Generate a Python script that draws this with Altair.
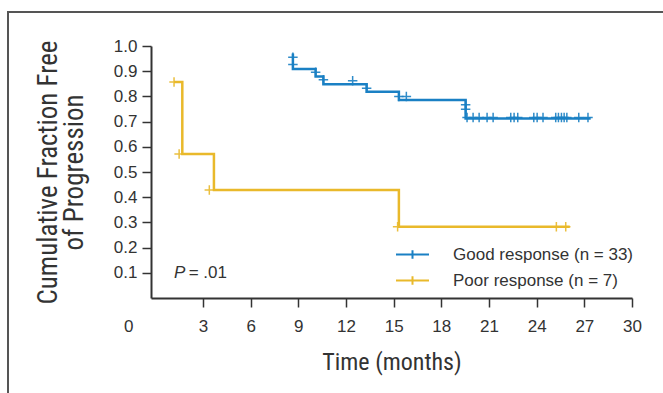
import altair as alt
import pandas as pd

# ---- data ----
good_times = [8.66, 8.66, 10.09, 10.58, 13.3, 15.33, 19.53, 27.4]
good_surv = [0.970, 0.909, 0.879, 0.848, 0.818, 0.786, 0.712, 0.712]
good_cens_t = [8.66, 8.66, 10.09, 10.58, 12.42, 13.3, 15.33, 15.8, 19.53, 19.53,
               19.62, 20.0, 20.38, 20.88, 21.26, 22.37, 22.58, 22.81, 23.82, 24.03,
               24.4, 25.2, 25.37, 25.56, 25.73, 25.9, 26.65, 27.23]
good_cens_s = [0.955, 0.927, 0.896, 0.866, 0.862, 0.832, 0.80, 0.80, 0.767, 0.749,
               0.716, 0.716, 0.716, 0.716, 0.716, 0.716, 0.716, 0.716, 0.716, 0.716,
               0.716, 0.716, 0.716, 0.716, 0.716, 0.716, 0.716, 0.716]

poor_times = [1.18, 1.7, 3.69, 15.33, 26.08]
poor_surv = [0.857, 0.571, 0.429, 0.283, 0.283]
poor_cens_t = [1.18, 1.5, 3.4, 15.25, 25.24, 25.83]
poor_cens_s = [0.857, 0.571, 0.429, 0.283, 0.283, 0.283]

groups = ["Good response (n = 33)", "Poor response (n = 7)"]
colors = ["#1a80c4", "#e9b92b"]
x_ticks = [0, 3, 6, 9, 12, 15, 18, 21, 24, 27, 30]
y_ticks = [0.1, 0.2, 0.3, 0.4, 0.5, 0.6, 0.7, 0.8, 0.9, 1.0]

lines = pd.DataFrame(
    [{"t": t, "s": s, "g": groups[0], "o": i} for i, (t, s) in enumerate(zip(good_times, good_surv))]
    + [{"t": t, "s": s, "g": groups[1], "o": i} for i, (t, s) in enumerate(zip(poor_times, poor_surv))]
)
cens = pd.DataFrame(
    [{"t": t, "s": s, "g": groups[0]} for t, s in zip(good_cens_t, good_cens_s)]
    + [{"t": t, "s": s, "g": groups[1]} for t, s in zip(poor_cens_t, poor_cens_s)]
)
ann_p = pd.DataFrame({"t": [1.18], "s": [0.1], "txt": ["P"]})
ann_v = pd.DataFrame({"t": [2.1], "s": [0.1], "txt": ["= .01"]})

LABEL_FONT = "Liberation Sans"
TITLE_FONT = "Roboto Condensed, Roboto, sans-serif"

xs = alt.Scale(domain=[-0.27, 30], nice=False, zero=False)
ys = alt.Scale(domain=[0, 1], nice=False)
col = alt.Scale(domain=groups, range=colors)

x_axis = alt.Axis(
    title="Time (months)", values=x_ticks, grid=False,
    labelFont=LABEL_FONT, labelFontSize=17, labelColor="#333", labelPadding=11,
    labelOverlap=False, labelFlush=False,
    tickSize=9, tickColor="#333", tickWidth=1.5,
    tickOpacity=alt.condition("datum.value == 0", alt.value(0), alt.value(1)),
    labelOffset=alt.condition("datum.value == 0", alt.value(-27), alt.value(0)),
    domainColor="#333", domainWidth=2,
    titleFont=TITLE_FONT, titleFontSize=24, titleFontWeight="normal", titleColor="#333",
    titlePadding=16,
)
y_axis = alt.Axis(
    title=["Cumulative Fraction Free", "of Progression"], values=y_ticks, format=".1f", grid=False,
    labelFont=LABEL_FONT, labelFontSize=17, labelColor="#333", labelPadding=5,
    labelOverlap=False, labelFlush=False, tickCount=10,
    tickSize=9, tickColor="#333", tickWidth=1.5,
    domainColor="#333", domainWidth=2,
    titleFont=TITLE_FONT, titleFontSize=27, titleFontWeight="normal", titleColor="#333",
    titlePadding=25, titleLineHeight=26,
)

X = alt.X("t:Q", scale=xs, axis=x_axis)
Y = alt.Y("s:Q", scale=ys, axis=y_axis)

legend = alt.Legend(
    title=None, orient="none", legendX=244, legendY=191,
    symbolType="M-1,0L1,0M0,-0.26L0,0.26", symbolSize=1089, symbolStrokeWidth=2,
    symbolFillColor="transparent",
    labelFont=LABEL_FONT, labelFontSize=17, labelColor="#333", labelOffset=23,
    labelLimit=400, rowPadding=-16,
)

line_layer = alt.Chart(lines).mark_line(interpolate="step-after", strokeWidth=2.5).encode(
    x=X, y=Y,
    color=alt.Color("g:N", scale=col, legend=legend),
    detail="g:N",
    order="o:Q",
)

cens_layer = alt.Chart(cens).mark_point(
    shape="M-1,0L1,0M0,-1L0,1", size=90, filled=False, strokeWidth=1.5, opacity=0.9
).encode(
    x=X, y=Y,
    color=alt.Color("g:N", scale=col, legend=None),
)

p_layer = alt.Chart(ann_p).mark_text(
    align="left", baseline="middle", font=LABEL_FONT, fontSize=17, color="#333", fontStyle="italic"
).encode(x=X, y=Y, text="txt:N")

v_layer = alt.Chart(ann_v).mark_text(
    align="left", baseline="middle", font=LABEL_FONT, fontSize=17, color="#333"
).encode(x=X, y=Y, text="txt:N")

frame = alt.Chart(pd.DataFrame({"a": [0]})).mark_rect(
    fill=None, stroke="#555", strokeWidth=2
).encode(
    x=alt.value(-143), x2=alt.value(700), y=alt.value(-34), y2=alt.value(400)
)

chart = alt.layer(line_layer, cens_layer, p_layer, v_layer, frame).properties(
    width=481, height=252,
    padding={"left": 151, "top": 46, "right": 31, "bottom": 95},
    autosize=alt.AutoSizeParams(type="none"),
    background="white",
).configure_view(stroke=None)

chart.save("out.html", embed_options={"renderer": "svg", "actions": False})
